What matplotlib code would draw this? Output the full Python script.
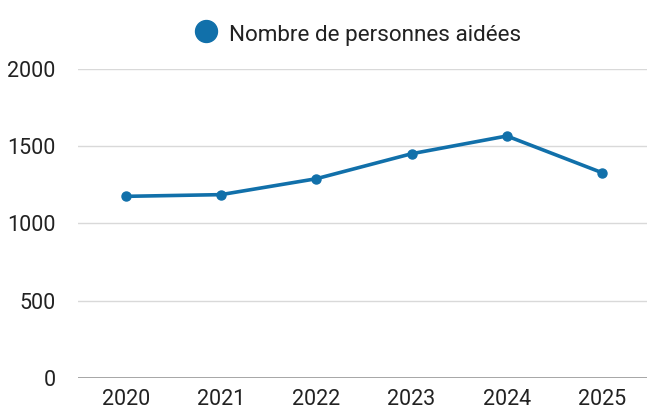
import matplotlib
matplotlib.use("Agg")
import matplotlib.pyplot as plt
from matplotlib.lines import Line2D

years = ["2020", "2021", "2022", "2023", "2024", "2025"]
personnes = [1175, 1186, 1289, 1451, 1566, 1328]
series_label = "Nombre de personnes aidées"
yticks = [0, 500, 1000, 1500, 2000]

color = "#1170aa"
plt.rcParams['font.family'] = ['Roboto', 'DejaVu Sans']

W, H = 647, 405
fig = plt.figure(figsize=(W/100, H/100), dpi=100)
step = 95.3
ax = fig.add_axes([78/W, 1 - 377.7/H, 6*step/W, (377.7-69)/H])

x = list(range(len(years)))
ax.plot(x, personnes, color=color, lw=2.6, marker='o', markersize=6.5, solid_capstyle='round', zorder=3)

ax.set_xlim(-0.5, len(years) - 0.5)
ax.set_ylim(0, 2000)
ax.set_yticks(yticks)
ax.set_yticklabels([str(v) for v in yticks])
ax.set_xticks(x)
ax.set_xticklabels(years)
ax.tick_params(axis='both', length=0, labelsize=15.5, colors="#222222")
ax.tick_params(axis='y', pad=16)
ax.tick_params(axis='x', pad=8)
for s in ax.spines.values():
    s.set_visible(False)
ax.grid(axis='y', color="#d9d9d9", lw=1)
ax.axhline(0, color="#999999", lw=1.2, zorder=2)
ax.set_axisbelow(True)

# legend
fig.add_artist(Line2D([206/W], [1 - 31/H], transform=fig.transFigure, color=color,
                      marker='o', linestyle='None', markersize=15.8))
fig.text(229/W, 1 - 41.5/H, series_label, ha='left', va='baseline', fontsize=16.2, color="#222222")

fig.savefig("out.png", dpi=100)
